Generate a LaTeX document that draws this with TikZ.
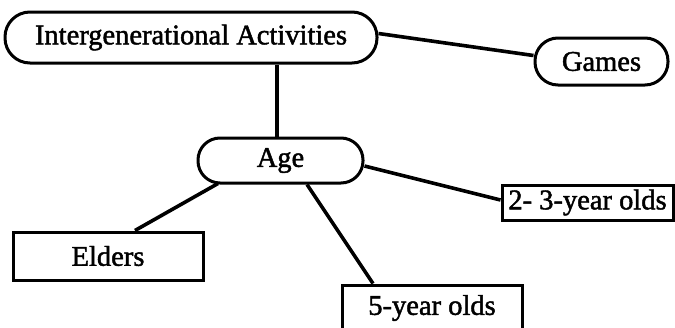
\documentclass[tikz,border=0pt]{standalone}
\usepackage{fontspec}
\setmainfont{Liberation Serif}[FakeBold=1.6]
\usetikzlibrary{backgrounds}
\begin{document}
\begin{tikzpicture}[x=1pt,y=-1pt,
  every node/.style={font=\fontsize{28.5}{30}\selectfont, inner sep=0pt, fill=white},
  pill/.style={draw, line width=3pt, rounded corners=#1},
  tag/.style={draw, line width=3pt},
  link/.style={line width=3.6pt}]
\useasboundingbox (0,0) rectangle (675,327);

% topic and branch nodes
\node[pill=25pt, minimum width=372pt, minimum height=51pt] (ia) at (191,37.5) {Intergenerational Activities};
\node[pill=23pt, minimum width=133pt, minimum height=47pt] (games) at (601.5,61.5) {Games};
\node[pill=22pt, minimum width=165pt, minimum height=45pt] (age) at (280.5,160.5) {Age};
\node[tag, minimum width=190pt, minimum height=48pt] (elders) at (108,256) {Elders};
\node[tag, minimum width=180pt, minimum height=46pt] (five) at (432,308) {5-year olds};
\node[tag, minimum width=171pt, minimum height=35pt] (twothree) at (587.5,202.5) {2- 3-year olds};

% connectors
\begin{scope}[on background layer]
\draw[link] ([yshift=4pt]ia.east) -- ([yshift=6pt]games.west);
\draw[link] ([xshift=-3.5pt]age.north) -- ([xshift=-3.5pt]age.north |- ia.south);
\draw[link] ([xshift=-62.5pt,yshift=1pt]age.south) -- ([xshift=27pt]elders.north);
\draw[link] ([xshift=26.5pt]age.south) -- ([xshift=-59pt]five.north);
\draw[link] ([yshift=-5.5pt]age.east) -- ([yshift=2.5pt]twothree.west);
\end{scope}
\end{tikzpicture}
\end{document}
